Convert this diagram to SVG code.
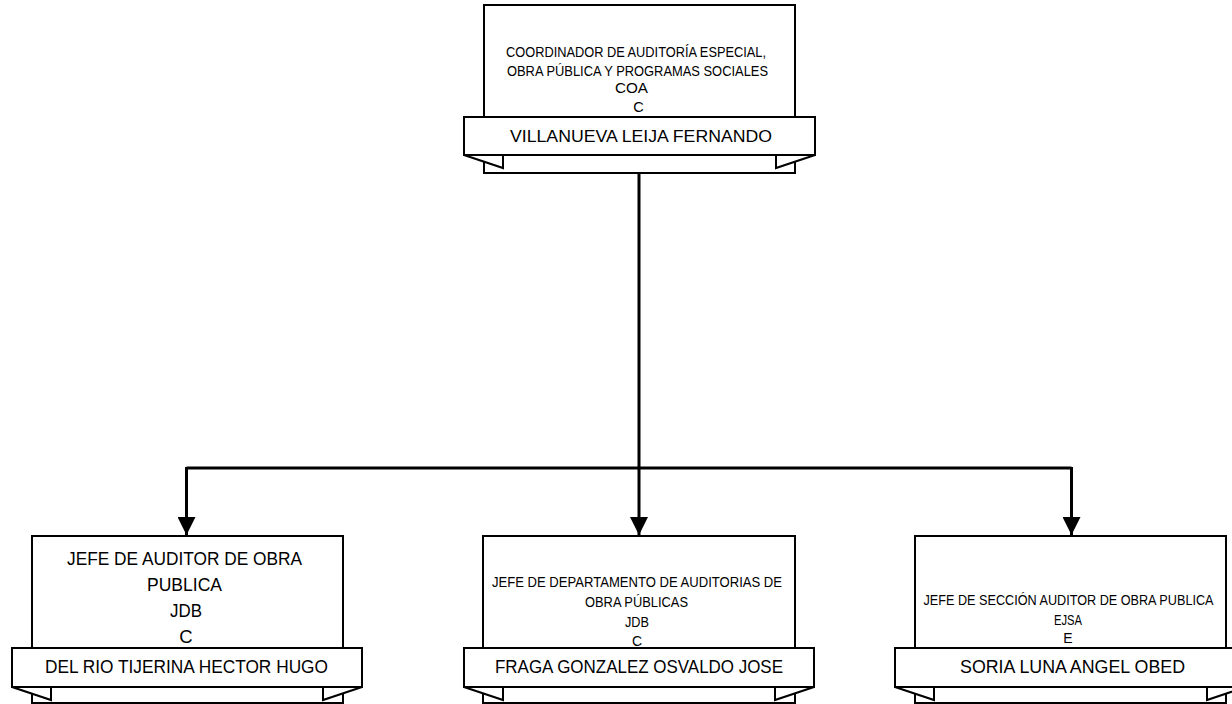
<svg xmlns="http://www.w3.org/2000/svg" width="1232" height="704" viewBox="0 0 1232 704">
<style>
.box{fill:#fff;stroke:#000;stroke-width:2}
.flap{fill:#fff;stroke:#000;stroke-width:2;stroke-linejoin:miter}
.t{font-family:"Liberation Sans",Arial,sans-serif;fill:#000;text-anchor:middle}
.conn{fill:none;stroke:#000;stroke-width:3}
</style>
<defs>
<marker id="arr" markerWidth="18" markerHeight="18" viewBox="0 0 18 18" refX="18" refY="9" orient="auto" markerUnits="userSpaceOnUse">
<path d="M0,0 L18,9 L0,18 Z" fill="#000"/>
</marker>
</defs>
<g id="connectors">
<path class="conn" d="M639,173 V468"/>
<path class="conn" d="M186.5,468 H1071.5"/>
<path class="conn" d="M186.5,467 V535" marker-end="url(#arr)"/>
<path class="conn" d="M639,467 V535" marker-end="url(#arr)"/>
<path class="conn" d="M1071.5,467 V535" marker-end="url(#arr)"/>
</g>
<g id="node-top">
<rect class="box" x="484" y="5" width="311" height="168"/>
<path class="flap" d="M464,155 L503,168 L503,155 Z"/>
<path class="flap" d="M815,155 L776,168 L776,155 Z"/>
<rect class="box" x="464" y="117" width="351" height="38"/>
<text class="t" x="636" y="57" font-size="14.5" textLength="260" lengthAdjust="spacingAndGlyphs">COORDINADOR DE AUDITORÍA ESPECIAL,</text>
<text class="t" x="637.5" y="76" font-size="14.5" textLength="261" lengthAdjust="spacingAndGlyphs">OBRA PÚBLICA Y PROGRAMAS SOCIALES</text>
<text class="t" x="631.5" y="93" font-size="14.5" textLength="33" lengthAdjust="spacingAndGlyphs">COA</text>
<text class="t" x="638.5" y="112" font-size="14.5">C</text>
<text class="t" x="641" y="142" font-size="17" textLength="262" lengthAdjust="spacingAndGlyphs">VILLANUEVA LEIJA FERNANDO</text>
</g>
<g id="node-left">
<rect class="box" x="32" y="536" width="311" height="167"/>
<path class="flap" d="M12,687 L51,700 L51,687 Z"/>
<path class="flap" d="M362,687 L323,700 L323,687 Z"/>
<rect class="box" x="12" y="648" width="350" height="39"/>
<text class="t" x="184.5" y="565" font-size="18.5" textLength="235" lengthAdjust="spacingAndGlyphs">JEFE DE AUDITOR DE OBRA</text>
<text class="t" x="184.5" y="591" font-size="18.5" textLength="75" lengthAdjust="spacingAndGlyphs">PUBLICA</text>
<text class="t" x="186" y="617" font-size="18.5" textLength="32" lengthAdjust="spacingAndGlyphs">JDB</text>
<text class="t" x="186" y="643" font-size="18.5">C</text>
<text class="t" x="186.5" y="673" font-size="18" textLength="283" lengthAdjust="spacingAndGlyphs">DEL RIO TIJERINA HECTOR HUGO</text>
</g>
<g id="node-center">
<rect class="box" x="483" y="536" width="312" height="167"/>
<path class="flap" d="M464,687 L503,700 L503,687 Z"/>
<path class="flap" d="M814,687 L775,700 L775,687 Z"/>
<rect class="box" x="464" y="648" width="350" height="39"/>
<text class="t" x="637" y="587" font-size="14" textLength="290" lengthAdjust="spacingAndGlyphs">JEFE DE DEPARTAMENTO DE AUDITORIAS DE</text>
<text class="t" x="636.5" y="607" font-size="14" textLength="103" lengthAdjust="spacingAndGlyphs">OBRA PÚBLICAS</text>
<text class="t" x="637" y="627" font-size="14" textLength="24" lengthAdjust="spacingAndGlyphs">JDB</text>
<text class="t" x="637" y="646" font-size="14">C</text>
<text class="t" x="639" y="673" font-size="18" textLength="288" lengthAdjust="spacingAndGlyphs">FRAGA GONZALEZ OSVALDO JOSE</text>
</g>
<g id="node-right">
<rect class="box" x="915" y="536" width="311" height="167"/>
<path class="flap" d="M895,687 L934,700 L934,687 Z"/>
<path class="flap" d="M1246,687 L1207,700 L1207,687 Z"/>
<rect class="box" x="895" y="648" width="351" height="39"/>
<text class="t" x="1068.5" y="605" font-size="14" textLength="290" lengthAdjust="spacingAndGlyphs">JEFE DE SECCIÓN AUDITOR DE OBRA PUBLICA</text>
<text class="t" x="1068" y="625" font-size="14" textLength="28" lengthAdjust="spacingAndGlyphs">EJSA</text>
<text class="t" x="1068" y="643" font-size="14">E</text>
<text class="t" x="1072.5" y="673" font-size="18" textLength="225" lengthAdjust="spacingAndGlyphs">SORIA LUNA ANGEL OBED</text>
</g>
</svg>
